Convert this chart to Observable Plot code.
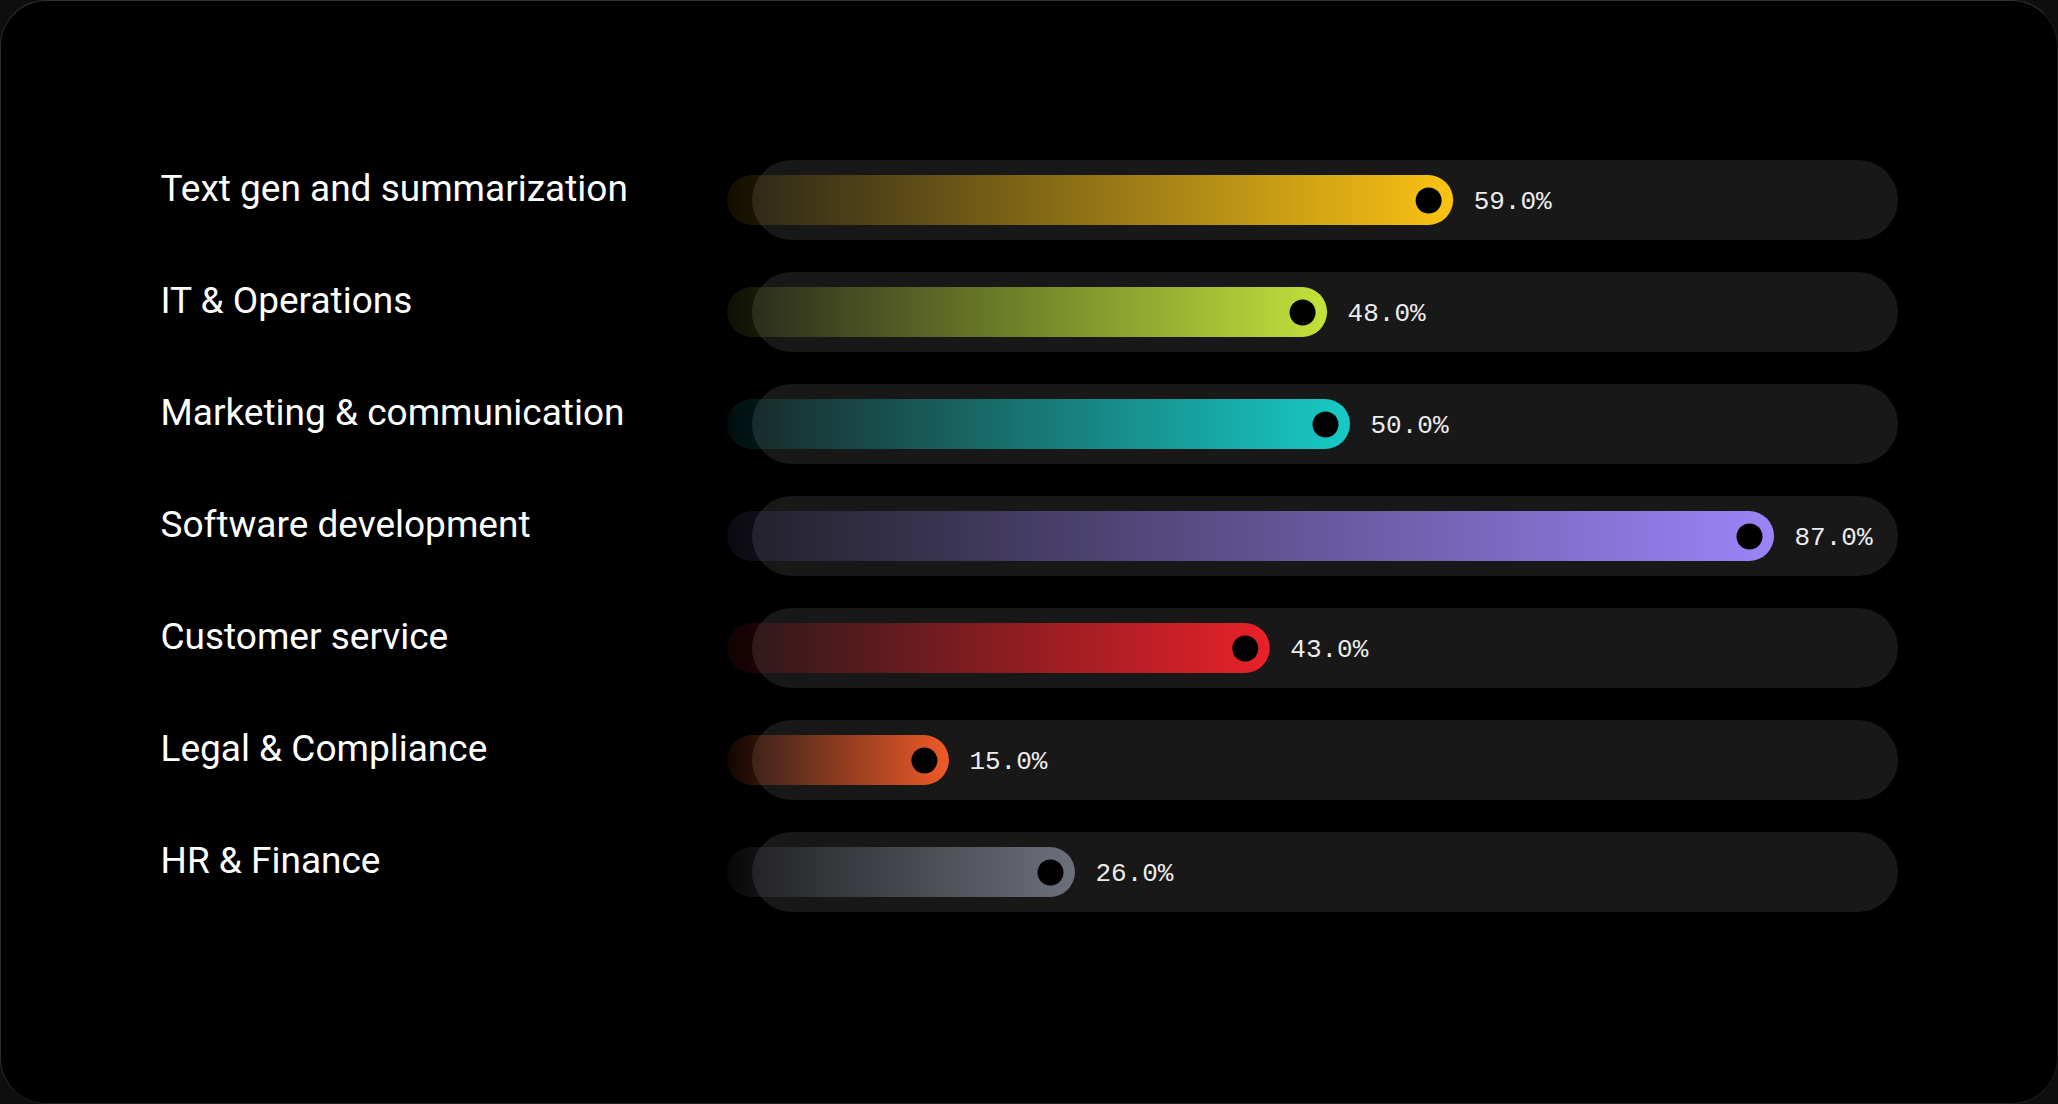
<!DOCTYPE html>
<html>
<head>
<meta charset="utf-8">
<script src="https://cdn.jsdelivr.net/npm/d3@7"></script>
<script src="https://cdn.jsdelivr.net/npm/@observablehq/plot@0.6"></script>
<style>
  html, body { margin: 0; padding: 0; background: #0e0e0e; overflow: hidden; }
  #card {
    position: absolute; left: 0; top: 0; width: 2058px; height: 1104px;
    box-sizing: border-box; background: #000; border-radius: 46px;
    border: 1.5px solid #1c1c1c; border-top-color: #333; border-left-color: #2c2c2c;
  }
  #chart { position: absolute; left: 0; top: 0; }
</style>
</head>
<body>
<div id="card"></div>
<div id="chart"></div>
<script>
const categories = ["Text gen and summarization", "IT & Operations", "Marketing & communication", "Software development", "Customer service", "Legal & Compliance", "HR & Finance"];
const values = [59, 48, 50, 87, 43, 15, 26];
const colors = ["#FBC314", "#C3E23A", "#17CBC7", "#9B84F7", "#EA2129", "#F05A27", "#6C707C"];
const valueLabels = values.map(v => v.toFixed(1) + "%");
const trackMax = 100;

const data = categories.map((c, i) => ({category: c, value: values[i], label: valueLabels[i], i}));

const W = 2058, H = 1104;
const mLeft = 752, mRight = 160, mTop = 144, mBottom = 176;
const labelX = 160;

const chart = Plot.plot({
  width: W, height: H,
  marginLeft: mLeft, marginRight: mRight, marginTop: mTop, marginBottom: mBottom,
  x: {domain: [0, trackMax], axis: null},
  y: {type: "band", domain: categories, padding: 0, round: false, axis: null},
  style: {background: "transparent", color: "#fff", overflow: "visible"},
  marks: [
    Plot.barX(data, {x1: () => 0, x2: () => trackMax, y: "category", fill: "#181818", rx: 40, insetTop: 16, insetBottom: 16}),
    Plot.barX(data, {x1: () => 0, x2: "value", y: "category", fill: d => `url(#grad${d.i})`, rx: 25,
      insetTop: 31, insetBottom: 31, insetLeft: -25, insetRight: -25}),
    Plot.dot(data, {x: "value", y: "category", r: 13, fill: "#000", stroke: null}),
    Plot.text(data, {x: "value", y: "category", text: "label", dx: 45, textAnchor: "start",
      fontFamily: "Liberation Mono", fontSize: 26, fill: "#ececec", ariaLabel: "value-label"}),
    Plot.text(categories, {y: d => d, text: d => d, frameAnchor: "left", textAnchor: "start", lineAnchor: "bottom",
      dx: labelX - mLeft, fontFamily: "Roboto", fontSize: 37, fill: "#ffffff", ariaLabel: "category-label"})
  ]
});

const svg = d3.select(chart);
const defs = svg.insert("defs", ":first-child");
colors.forEach((c, i) => {
  const g = defs.append("linearGradient").attr("id", `grad${i}`).attr("x1", 0).attr("x2", 1).attr("y1", 0).attr("y2", 0);
  g.append("stop").attr("offset", 0).attr("stop-color", c).attr("stop-opacity", 0.07);
  g.append("stop").attr("offset", 1).attr("stop-color", c).attr("stop-opacity", 1);
});
svg.selectAll('g[aria-label="value-label"]').style("letter-spacing", "1px");

document.getElementById("chart").appendChild(chart);
</script>
</body>
</html>
